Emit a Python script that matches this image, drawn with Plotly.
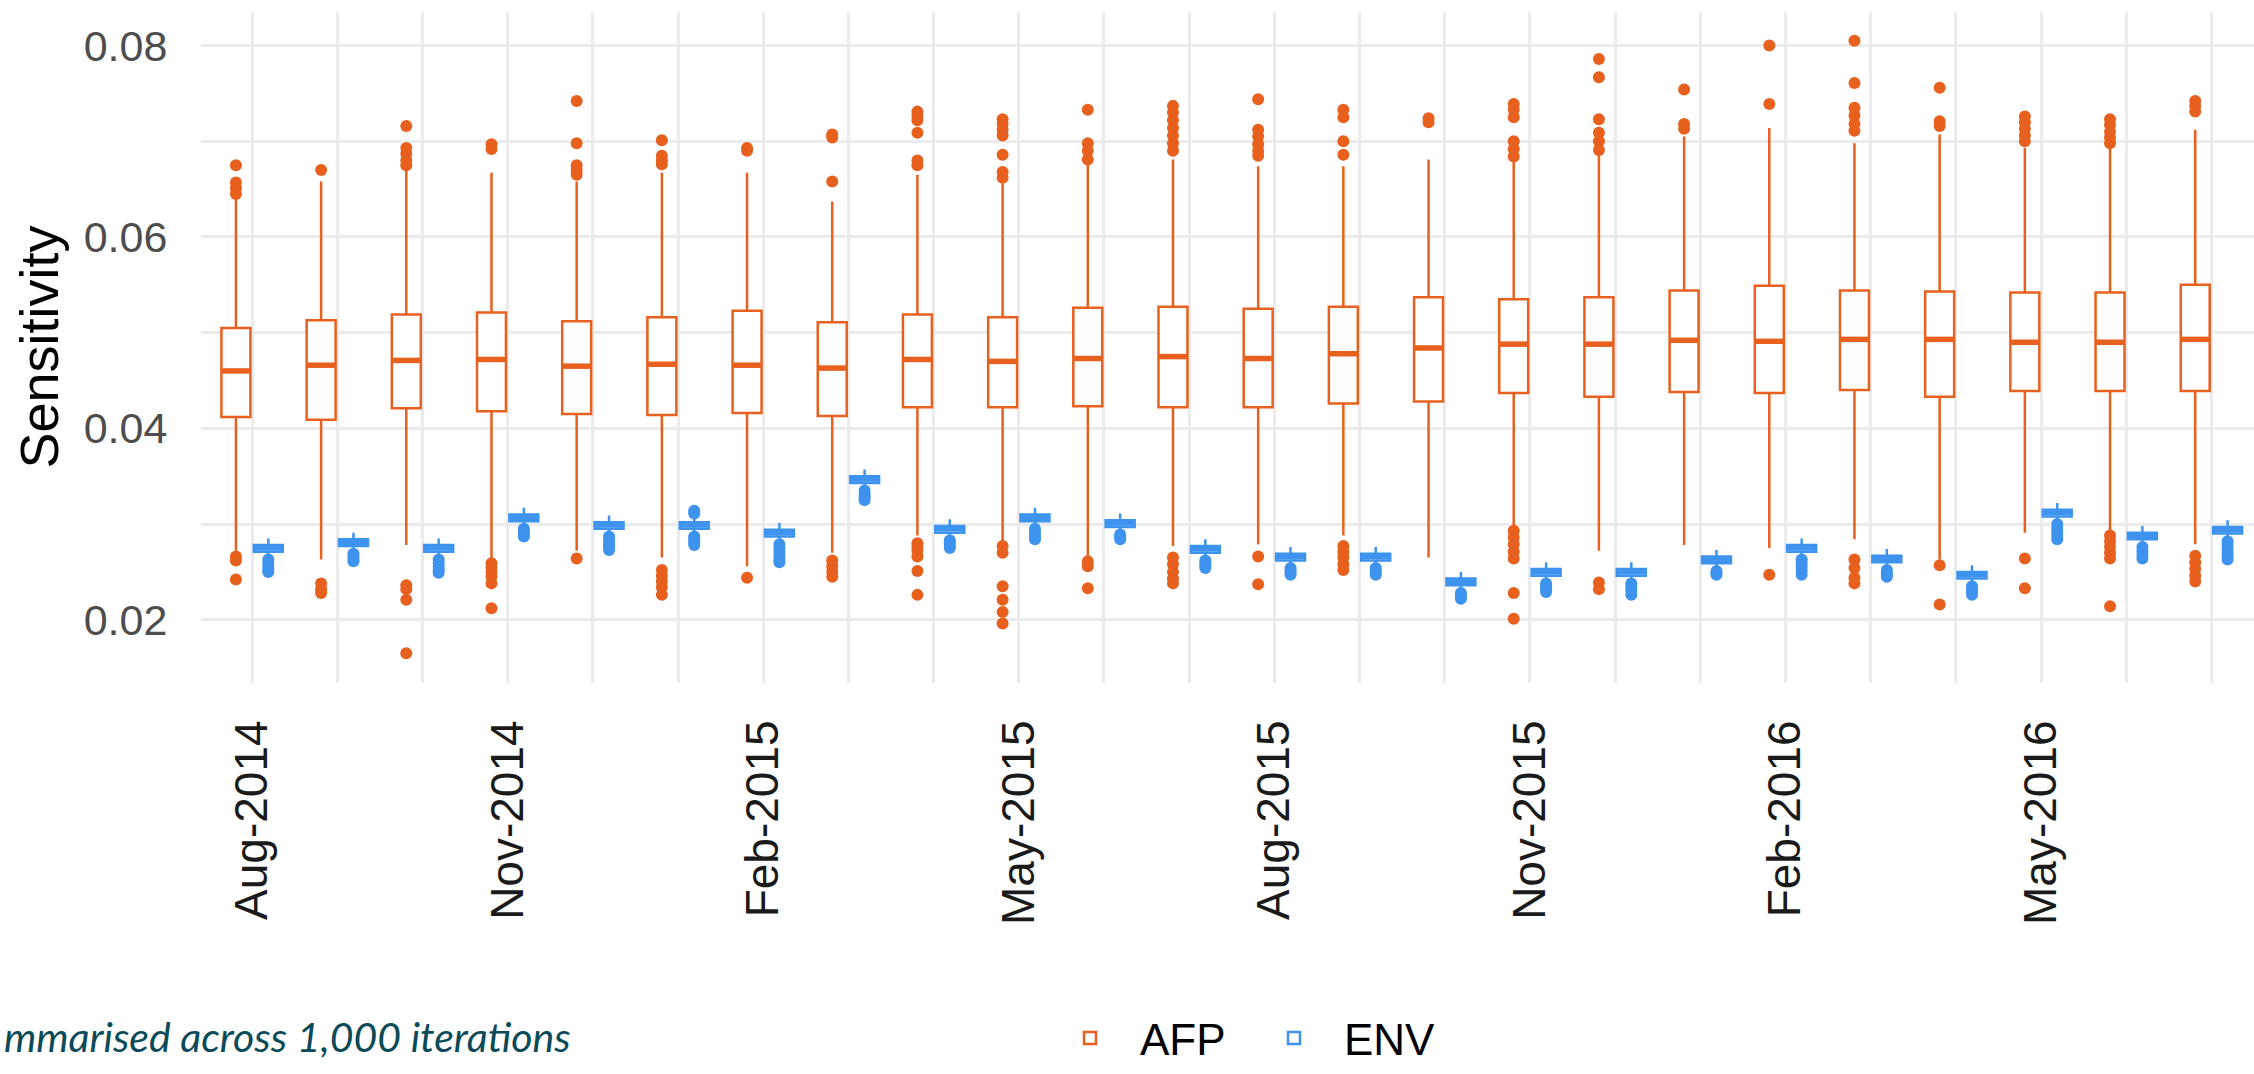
import plotly.graph_objects as go

# ---------------- data ----------------
MONTHS = ["Aug-2014", "Sep-2014", "Oct-2014", "Nov-2014", "Dec-2014", "Jan-2015",
          "Feb-2015", "Mar-2015", "Apr-2015", "May-2015", "Jun-2015", "Jul-2015",
          "Aug-2015", "Sep-2015", "Oct-2015", "Nov-2015", "Dec-2015", "Jan-2016",
          "Feb-2016", "Mar-2016", "Apr-2016", "May-2016", "Jun-2016", "Jul-2016"]

AFP_Q1 = [0.0412, 0.0409, 0.0421, 0.0418, 0.0415, 0.0414, 0.0416, 0.0413, 0.0422, 0.0422, 0.0423, 0.0422,
          0.0422, 0.0426, 0.0428, 0.0437, 0.0433, 0.0438, 0.0437, 0.0440, 0.0433, 0.0439, 0.0439, 0.0439]
AFP_MED = [0.0460, 0.0466, 0.0471, 0.0472, 0.0465, 0.0467, 0.0466, 0.0463, 0.0472, 0.0470, 0.0473, 0.0475,
           0.0473, 0.0478, 0.0484, 0.0488, 0.0488, 0.0492, 0.0491, 0.0493, 0.0493, 0.0490, 0.0490, 0.0493]
AFP_Q3 = [0.0505, 0.0513, 0.0519, 0.0521, 0.0512, 0.0516, 0.0523, 0.0511, 0.0519, 0.0516, 0.0526, 0.0527,
          0.0525, 0.0527, 0.0537, 0.0535, 0.0537, 0.0544, 0.0549, 0.0544, 0.0543, 0.0542, 0.0542, 0.0550]
AFP_LO = [0.0272, 0.0263, 0.0278, 0.0263, 0.0272, 0.0265, 0.0256, 0.0270, 0.0288, 0.0279, 0.0267, 0.0277,
          0.0279, 0.0288, 0.0265, 0.0298, 0.0272, 0.0278, 0.0275, 0.0284, 0.0263, 0.0291, 0.0291, 0.0279]
AFP_HI = [0.0642, 0.0658, 0.0670, 0.0667, 0.0658, 0.0667, 0.0667, 0.0637, 0.0665, 0.0656, 0.0677, 0.0681,
          0.0674, 0.0674, 0.0681, 0.0679, 0.0688, 0.0705, 0.0714, 0.0698, 0.0707, 0.0693, 0.0693, 0.0712]
AFP_OUT = [
    [0.0675, 0.0657, 0.0651, 0.0645, 0.0266, 0.0262, 0.0242],
    [0.0670, 0.0238, 0.0232, 0.0228],
    [0.0716, 0.0693, 0.0687, 0.0680, 0.0675, 0.0236, 0.0232, 0.0221, 0.0165],
    [0.0697, 0.0692, 0.0259, 0.0255, 0.0250, 0.0245, 0.0238, 0.0212],
    [0.0742, 0.0698, 0.0675, 0.0670, 0.0665, 0.0264],
    [0.0701, 0.0685, 0.0680, 0.0676, 0.0252, 0.0246, 0.0240, 0.0234, 0.0226],
    [0.0693, 0.0690, 0.0244],
    [0.0707, 0.0704, 0.0658, 0.0262, 0.0256, 0.0250, 0.0245],
    [0.0731, 0.0727, 0.0722, 0.0709, 0.0680, 0.0675, 0.0280, 0.0276, 0.0272, 0.0266, 0.0251, 0.0226],
    [0.0723, 0.0718, 0.0712, 0.0706, 0.0686, 0.0668, 0.0662, 0.0277, 0.0270, 0.0235, 0.0221, 0.0208, 0.0196],
    [0.0733, 0.0698, 0.0690, 0.0681, 0.0261, 0.0256, 0.0233],
    [0.0737, 0.0730, 0.0722, 0.0714, 0.0706, 0.0698, 0.0690, 0.0265, 0.0258, 0.0250, 0.0243, 0.0238],
    [0.0744, 0.0712, 0.0705, 0.0697, 0.0690, 0.0685, 0.0266, 0.0237],
    [0.0733, 0.0725, 0.0700, 0.0686, 0.0277, 0.0271, 0.0265, 0.0258, 0.0252],
    [0.0724, 0.0720],
    [0.0739, 0.0733, 0.0725, 0.0700, 0.0692, 0.0684, 0.0293, 0.0286, 0.0279, 0.0271, 0.0264, 0.0228, 0.0201],
    [0.0786, 0.0767, 0.0723, 0.0709, 0.0700, 0.0691, 0.0239, 0.0232],
    [0.0754, 0.0718, 0.0713],
    [0.0800, 0.0739, 0.0247],
    [0.0805, 0.0761, 0.0735, 0.0727, 0.0718, 0.0711, 0.0263, 0.0254, 0.0244, 0.0238],
    [0.0756, 0.0721, 0.0716, 0.0257, 0.0216],
    [0.0726, 0.0720, 0.0713, 0.0706, 0.0700, 0.0264, 0.0233],
    [0.0723, 0.0717, 0.0710, 0.0704, 0.0698, 0.0288, 0.0282, 0.0276, 0.0270, 0.0264, 0.0214],
    [0.0742, 0.0737, 0.0731, 0.0267, 0.0260, 0.0253, 0.0246, 0.0240],
]

ENV_Q1 = [0.0271, 0.0277, 0.0271, 0.0303, 0.0295, 0.0295, 0.0287, 0.0343, 0.0291, 0.0303, 0.0297, 0.0270,
          0.0262, 0.0262, 0.0236, 0.0246, 0.0246, 0.0259, 0.0271, 0.0260, 0.0243, 0.0308, 0.0284, 0.0290]
ENV_MED = [0.0275, 0.0281, 0.0275, 0.0307, 0.0299, 0.0299, 0.0291, 0.0347, 0.0295, 0.0307, 0.0301, 0.0274,
           0.0266, 0.0266, 0.0240, 0.0250, 0.0250, 0.0263, 0.0275, 0.0264, 0.0247, 0.0312, 0.0288, 0.0294]
ENV_Q3 = [0.0278, 0.0284, 0.0278, 0.0310, 0.0302, 0.0302, 0.0294, 0.0350, 0.0298, 0.0310, 0.0304, 0.0277,
          0.0269, 0.0269, 0.0243, 0.0253, 0.0253, 0.0266, 0.0278, 0.0267, 0.0250, 0.0315, 0.0291, 0.0297]
ENV_LO = [0.0266, 0.0272, 0.0266, 0.0298, 0.0290, 0.0290, 0.0282, 0.0338, 0.0286, 0.0298, 0.0292, 0.0265,
          0.0257, 0.0257, 0.0231, 0.0241, 0.0241, 0.0254, 0.0266, 0.0255, 0.0238, 0.0303, 0.0279, 0.0285]
ENV_HI = [0.0285, 0.0291, 0.0285, 0.0317, 0.0309, 0.0307, 0.0301, 0.0357, 0.0305, 0.0317, 0.0311, 0.0284,
          0.0276, 0.0276, 0.0250, 0.0260, 0.0260, 0.0273, 0.0285, 0.0274, 0.0257, 0.0322, 0.0298, 0.0304]
ENV_OUT = [
    [0.0263, 0.0259, 0.0255, 0.0252, 0.0250],
    [0.0269, 0.0266, 0.0263, 0.0261],
    [0.0263, 0.0259, 0.0255, 0.0252, 0.0249],
    [0.0295, 0.0292, 0.0289, 0.0287],
    [0.0287, 0.0283, 0.0279, 0.0276, 0.0273],
    [0.0314, 0.0311, 0.0287, 0.0284, 0.0281, 0.0278],
    [0.0279, 0.0275, 0.0271, 0.0267, 0.0263, 0.0260],
    [0.0335, 0.0331, 0.0328, 0.0325],
    [0.0283, 0.0280, 0.0277, 0.0275],
    [0.0295, 0.0291, 0.0287, 0.0284],
    [0.0289, 0.0286, 0.0284],
    [0.0262, 0.0259, 0.0256, 0.0254],
    [0.0254, 0.0251, 0.0249, 0.0247],
    [0.0254, 0.0251, 0.0249, 0.0247],
    [0.0228, 0.0225, 0.0222],
    [0.0238, 0.0235, 0.0232, 0.0229],
    [0.0238, 0.0234, 0.0230, 0.0226],
    [0.0251, 0.0249, 0.0247],
    [0.0263, 0.0259, 0.0255, 0.0251, 0.0247],
    [0.0252, 0.0249, 0.0247, 0.0245],
    [0.0235, 0.0232, 0.0229, 0.0226],
    [0.0300, 0.0296, 0.0292, 0.0288, 0.0284],
    [0.0276, 0.0272, 0.0268, 0.0264],
    [0.0282, 0.0278, 0.0274, 0.0270, 0.0266, 0.0263],
]

Y_TICKS = [0.02, 0.03, 0.04, 0.05, 0.06, 0.07, 0.08]
Y_TICK_TEXT = ["0.02", "", "0.04", "", "0.06", "", "0.08"]
CAPTION = "mmarised across 1,000 iterations"

# ---------------- style ----------------
AFP_COLOR = "#E8601E"
ENV_COLOR = "#3D93EE"
GRID = "#EBEBEB"
DODGE = 0.19
BOX_W = 0.34
FONT = "Liberation Sans, Arial, sans-serif"

W, H = 2254, 1074
ML, MR, MT, MB = 201, 0, 12, 372
PW, PH = W - ML - MR, H - MT - MB


def px_x(p):
    return (p - ML) / PW


def px_y(p):
    return (H - MB - p) / PH


fig = go.Figure()


def add_series(name, color, offset, q1, med, q3, lo, hi, outs):
    xs = [i + offset for i in range(len(MONTHS))]
    fig.add_trace(go.Box(
        name=name, x=xs, q1=q1, median=med, q3=q3, lowerfence=lo, upperfence=hi,
        width=BOX_W, whiskerwidth=0, boxpoints=False, fillcolor="white",
        line=dict(color=color, width=2.5), hoverinfo="skip", showlegend=True,
    ))
    # thicker median bars (ggplot style)
    mx, my = [], []
    for x, m in zip(xs, med):
        mx += [x - BOX_W / 2 + 0.01, x + BOX_W / 2 - 0.01, None]
        my += [m, m, None]
    fig.add_trace(go.Scatter(x=mx, y=my, mode="lines", line=dict(color=color, width=5.5),
                             showlegend=False, hoverinfo="skip"))
    ox, oy = [], []
    for x, vals in zip(xs, outs):
        for v in vals:
            ox.append(x)
            oy.append(v)
    fig.add_trace(go.Scatter(x=ox, y=oy, mode="markers", marker=dict(color=color, size=12),
                             showlegend=False, hoverinfo="skip"))


add_series("AFP", AFP_COLOR, -DODGE, AFP_Q1, AFP_MED, AFP_Q3, AFP_LO, AFP_HI, AFP_OUT)
add_series("ENV", ENV_COLOR, DODGE, ENV_Q1, ENV_MED, ENV_Q3, ENV_LO, ENV_HI, ENV_OUT)

tick_text = [m if i % 3 == 0 else "" for i, m in enumerate(MONTHS)]

fig.update_layout(
    width=W, height=H,
    margin=dict(l=ML, r=MR, t=MT, b=MB, pad=0),
    paper_bgcolor="white", plot_bgcolor="white",
    boxmode="overlay",
    font=dict(family=FONT, color="#000000"),
    xaxis=dict(
        range=[-0.6, 23.5], tickmode="array", tickvals=list(range(len(MONTHS))), ticktext=tick_text,
        tickangle=-90, tickfont=dict(size=46, color="#1A1A1A", family=FONT),
        showgrid=True, gridcolor=GRID, gridwidth=3, zeroline=False, showline=False,
        ticks="outside", ticklen=18, tickcolor="rgba(0,0,0,0)",
    ),
    yaxis=dict(
        range=[0.01339, 0.08351], tickmode="array", tickvals=Y_TICKS, ticktext=Y_TICK_TEXT,
        tickfont=dict(size=43, color="#4D4D4D", family=FONT),
        showgrid=True, gridcolor=GRID, gridwidth=3, zeroline=False, showline=False,
        ticks="outside", ticklen=24, tickcolor="rgba(0,0,0,0)",
    ),
    legend=dict(
        orientation="h", x=px_x(1040), xanchor="left", y=px_y(1068), yanchor="middle",
        font=dict(size=44, family=FONT, color="#000000"), bgcolor="rgba(0,0,0,0)",
        itemwidth=90, traceorder="normal", entrywidth=99, entrywidthmode="pixels",
    ),
    annotations=[
        dict(text="Sensitivity", textangle=-90, xref="paper", yref="paper",
             x=px_x(38), y=px_y(357), xanchor="center", yanchor="middle", showarrow=False,
             font=dict(size=54, family=FONT, color="#000000")),
        dict(text="<i>" + CAPTION + "</i>", xref="paper", yref="paper",
             x=px_x(2), y=px_y(1066), xanchor="left", yanchor="middle", showarrow=False,
             font=dict(size=41, family="Lato, Open Sans, sans-serif", color="#0B4A58")),
    ],
)

fig.write_html("out.html")
